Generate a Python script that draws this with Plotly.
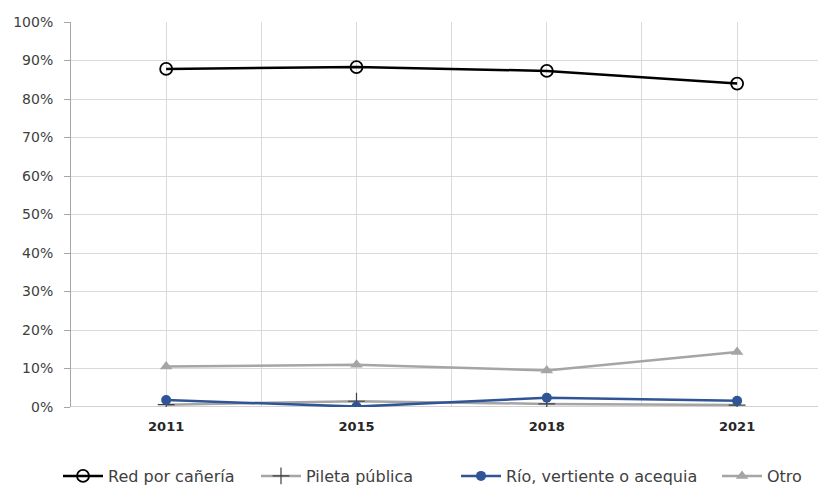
import plotly.graph_objects as go

years = ["2011", "2015", "2018", "2021"]
red = [87.8, 88.3, 87.3, 84.0]
pileta = [0.6, 1.5, 0.8, 0.5]
rio = [1.8, 0.1, 2.4, 1.6]
otro = [10.5, 11.0, 9.5, 14.3]
y_ticks = list(range(0, 101, 10))

xpos = list(range(len(years)))
FONT = "DejaVu Sans, sans-serif"

PL, PR, PT, PB, W, H = 71, 0, 22, 79, 818, 486
plot_w = W - PL - PR
plot_h = H - PT - PB


def px_x(px):
    return (px - PL) / plot_w


def px_y(py):
    return (H - PB - py) / plot_h


fig = go.Figure()
fig.add_trace(go.Scatter(x=xpos, y=red, name="Red por cañería", mode="lines+markers",
                         line=dict(color="black", width=2.5),
                         marker=dict(symbol="circle-open", size=12, color="black", line=dict(width=1.8)),
                         legend="legend"))
fig.add_trace(go.Scatter(x=xpos, y=pileta, name="Pileta pública", mode="lines+markers",
                         line=dict(color="#a5a5a5", width=2.5),
                         marker=dict(symbol="cross-thin-open", size=12, color="#404040", line=dict(width=1.2, color="#404040")),
                         legend="legend2"))
fig.add_trace(go.Scatter(x=xpos, y=rio, name="Río, vertiente o acequia", mode="lines+markers",
                         line=dict(color="#2f5597", width=2.5),
                         marker=dict(symbol="circle", size=10, color="#2f5597"),
                         legend="legend3"))
fig.add_trace(go.Scatter(x=xpos, y=otro, name="Otro", mode="lines+markers",
                         line=dict(color="#a5a5a5", width=2.5),
                         marker=dict(symbol="triangle-up", size=11, color="#a5a5a5"),
                         legend="legend4"))

tickvals = []
ticktext = []
for i, yr in enumerate(years):
    tickvals += [i - 0.5, i]
    ticktext += ["", yr]
tickvals.append(len(years) - 0.5)
ticktext.append("")

leg_common = dict(orientation="h", xanchor="left", yanchor="middle", y=px_y(476),
                  font=dict(size=16, color="#404040", family=FONT), itemwidth=40,
                  bgcolor="rgba(0,0,0,0)")
text_starts = [107, 305, 505, 766]
legends = {}
for k, ts in enumerate(text_starts):
    key = "legend" if k == 0 else f"legend{k + 1}"
    legends[key] = dict(leg_common, x=px_x(ts - 49))

fig.update_layout(
    width=W, height=H,
    margin=dict(l=PL, r=PR, t=PT, b=PB, autoexpand=False),
    paper_bgcolor="white", plot_bgcolor="white",
    font=dict(family=FONT, size=14, color="#404040"),
    showlegend=True,
    xaxis=dict(range=[-0.5, 3.425], tickmode="array", tickvals=tickvals, ticktext=ticktext,
               showgrid=True, gridcolor="#d9d9d9", gridwidth=1, zeroline=False,
               showline=False, ticks="",
               tickfont=dict(size=13, color="#262626", family=FONT, weight="bold"),
               ticklabelstandoff=10),
    yaxis=dict(range=[0, 100], tickmode="array", tickvals=y_ticks,
               ticktext=[f"{v}%" for v in y_ticks],
               showgrid=True, gridcolor="#d9d9d9", gridwidth=1, zeroline=False,
               showline=True, linecolor="#a6a6a6", linewidth=1,
               ticks="outside", ticklen=6, tickcolor="#a6a6a6",
               ticklabelstandoff=8,
               tickfont=dict(size=14, color="#404040", family=FONT)),
    **legends,
)
fig.add_hline(y=0, line=dict(color="#a6a6a6", width=1.2), layer="below")

fig.write_html("out.html")
